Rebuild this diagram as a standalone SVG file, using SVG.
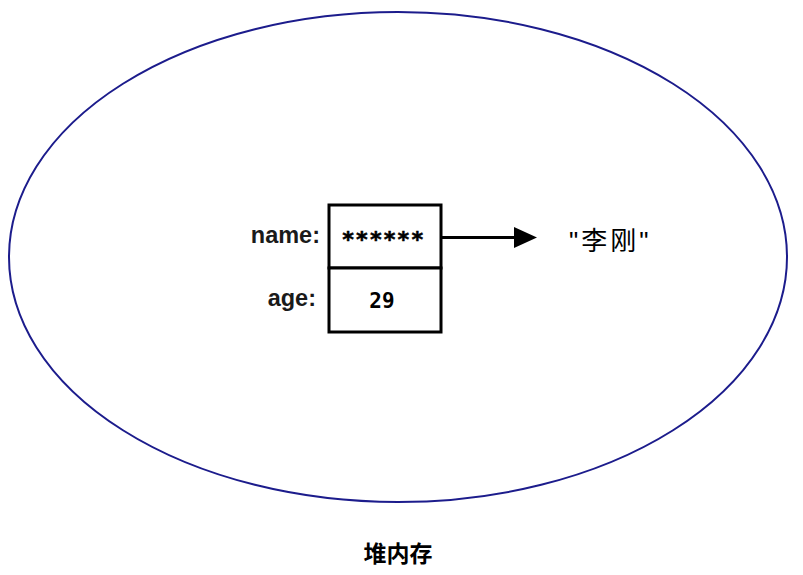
<svg xmlns="http://www.w3.org/2000/svg" width="803" height="575" viewBox="0 0 803 575">
<style>
.lbl{font-family:"Liberation Sans",Arial,sans-serif;font-weight:bold;font-size:23.5px;fill:#1a1a1a;text-anchor:end}
.val{font-family:"DejaVu Sans Mono","Liberation Mono",monospace;font-weight:bold;fill:#000;text-anchor:middle}
.cell{fill:#fff;stroke:#000;stroke-width:3}
.cjk{font-family:"Liberation Sans","Noto Sans CJK SC",sans-serif;fill:#000}
</style>
<rect width="803" height="575" fill="#fff"/>
<g id="heap">
<ellipse cx="398" cy="257" rx="389" ry="245" fill="none" stroke="#1c1c8c" stroke-width="2"/>
</g>
<g id="object">
<rect class="cell" x="329" y="205" width="112" height="63"/>
<rect class="cell" x="329" y="268" width="112" height="64"/>
<text class="lbl" x="320" y="243">name:</text>
<text class="lbl" x="316" y="306">age:</text>
<text class="val" x="383" y="247" font-size="22" letter-spacing="0.6" stroke="#000" stroke-width="0.6">******</text>
<text class="val" x="382" y="308" font-size="21">29</text>
</g>
<g id="string">
<text class="cjk" x="569" y="250" font-size="26" letter-spacing="3">"李刚"</text>
</g>
<g id="connectors">
<line x1="441" y1="237.5" x2="516" y2="237.5" stroke="#000" stroke-width="3"/>
<polygon points="514,227 537,237.5 514,248" fill="#000"/>
</g>
<g id="caption">
<text class="cjk" x="398" y="562" font-size="23" font-weight="bold" text-anchor="middle">堆内存</text>
</g>
</svg>
